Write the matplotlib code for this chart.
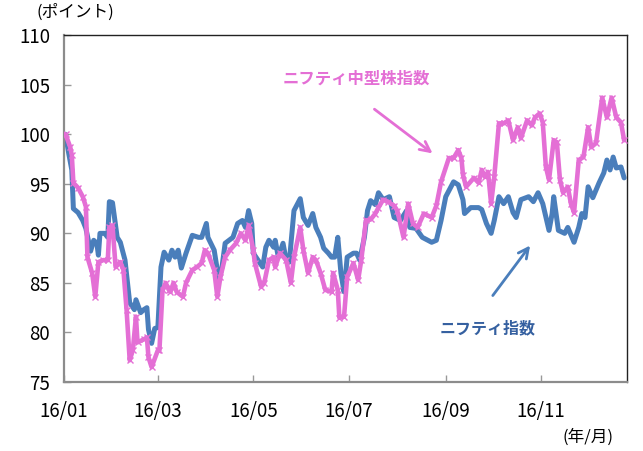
import pandas as pd
import matplotlib
matplotlib.use("Agg")
import matplotlib.pyplot as plt

plt.rcParams['font.family'] = ['Noto Sans CJK JP', 'DejaVu Sans']

# days counted from 2016-01-01, values in points (start = 100)
nifty_days = [1, 3, 5, 6, 9, 12, 14, 17, 19, 21, 22, 23, 26, 28, 29, 31, 34, 36, 39, 42,
              45, 46, 49, 51, 53, 54, 56, 58, 60, 62, 64, 67, 69, 71, 73, 75, 78, 82, 86, 88,
              91, 92, 96, 99, 101, 103, 108, 111, 114, 116, 118, 120, 121, 124, 127, 129, 131, 134, 135, 137,
              140, 142, 144, 147, 151, 153, 156, 159, 161, 164, 166, 169, 171, 173, 175, 177, 179, 181, 185, 187,
              189, 192, 194, 196, 199, 201, 204, 208, 211, 215, 219, 221, 225, 229, 235, 238, 241, 244, 249, 252,
              255, 256, 260, 265, 267, 270, 273, 275, 278, 281, 284, 287, 289, 292, 297, 300, 303, 306, 310, 312,
              313, 316, 320, 322, 326, 329, 331, 333, 335, 338, 342, 345, 347, 349, 351, 353, 356, 358]
nifty_vals = [100.0, 98.1, 96.4, 92.5, 92.1, 91.3, 90.5, 88.2, 89.3, 89.0, 87.8, 90.0, 90.0, 89.6, 93.2, 93.1, 89.6, 89.1, 87.3, 83.0,
              82.3, 83.3, 82.0, 82.3, 82.5, 80.3, 78.9, 80.4, 80.5, 86.6, 88.1, 87.3, 88.3, 87.6, 88.3, 86.5, 88.0, 89.8, 89.6, 89.6,
              91.0, 89.6, 88.3, 85.3, 86.6, 89.0, 89.6, 91.0, 91.3, 90.6, 92.3, 91.0, 88.0, 87.3, 86.6, 88.6, 89.3, 88.6, 89.3, 87.6,
              89.0, 87.3, 87.1, 92.3, 93.5, 91.6, 90.8, 92.0, 90.6, 89.6, 88.5, 88.0, 87.6, 87.6, 89.6, 86.0, 84.1, 87.6, 88.0, 88.0,
              87.3, 89.6, 92.3, 93.3, 92.9, 94.1, 93.4, 93.7, 91.6, 91.3, 92.3, 90.6, 90.5, 89.6, 89.1, 89.3, 91.3, 93.7, 95.2, 94.9,
              93.4, 92.0, 92.6, 92.6, 92.4, 91.0, 90.0, 91.3, 93.7, 93.0, 93.7, 92.1, 91.6, 93.4, 93.7, 93.2, 94.1, 93.0, 90.3, 92.0,
              93.7, 90.3, 90.0, 90.6, 89.1, 90.6, 92.0, 91.6, 94.7, 93.6, 95.1, 96.1, 97.4, 96.4, 97.7, 96.6, 96.7, 95.6]

midcap_days = [1, 4, 5, 6, 9, 12, 14, 15, 18, 20, 22, 25, 28, 29, 31, 33, 36, 38, 40, 42,
               44, 46, 47, 51, 53, 54, 56, 60, 61, 63, 65, 67, 68, 70, 72, 76, 78, 82, 85, 88,
               90, 92, 96, 98, 100, 103, 106, 110, 113, 116, 118, 121, 122, 126, 128, 131, 134, 135, 138, 142,
               145, 147, 151, 153, 156, 159, 161, 164, 167, 171, 172, 175, 176, 179, 181, 185, 188, 190, 193, 196,
               199, 201, 204, 207, 211, 213, 217, 220, 223, 226, 230, 235, 238, 241, 246, 249, 252, 254, 255, 257,
               262, 265, 267, 269, 271, 273, 275, 278, 281, 284, 287, 290, 292, 296, 299, 301, 304, 306, 308, 310,
               313, 315, 317, 319, 322, 324, 326, 329, 332, 335, 337, 340, 344, 347, 350, 353, 356, 358]
midcap_vals = [100.0, 98.7, 97.9, 95.1, 94.6, 93.7, 92.7, 87.6, 86.0, 83.6, 87.1, 87.3, 87.3, 90.6, 90.8, 86.6, 87.1, 86.3, 82.3, 77.2,
               78.2, 81.6, 79.0, 79.3, 79.5, 77.5, 76.5, 78.2, 78.2, 84.3, 85.0, 84.3, 84.1, 85.0, 84.1, 83.6, 85.0, 86.3, 86.6, 87.0,
               88.3, 88.0, 86.3, 83.6, 85.6, 87.6, 88.3, 89.0, 90.0, 89.3, 90.8, 88.3, 87.0, 84.6, 85.0, 87.3, 87.6, 86.6, 88.0, 87.3,
               85.0, 87.6, 90.6, 88.3, 86.0, 87.6, 87.3, 86.0, 84.3, 84.1, 86.0, 84.3, 81.5, 81.6, 85.6, 87.0, 85.3, 87.3, 91.3, 91.4,
               92.0, 92.6, 93.4, 93.2, 92.8, 92.3, 89.6, 93.0, 91.0, 90.6, 92.0, 91.6, 92.8, 95.2, 97.6, 97.6, 98.4, 97.6, 95.9, 94.7,
               95.6, 95.1, 96.4, 95.7, 96.2, 93.0, 95.7, 101.1, 101.1, 101.4, 99.4, 100.7, 99.6, 101.4, 100.9, 101.7, 102.1, 101.2, 96.7, 95.4,
               99.4, 99.2, 95.4, 94.1, 94.7, 93.0, 92.1, 97.4, 97.7, 100.7, 98.7, 99.1, 103.7, 101.7, 103.7, 101.7, 101.2, 99.4]

tick_labels = ['16/01', '16/03', '16/05', '16/07', '16/09', '16/11']
tick_dates = ['2016-01-01', '2016-03-01', '2016-05-01', '2016-07-01', '2016-09-01', '2016-11-01']

start = pd.Timestamp('2016-01-01')
nifty_x = start + pd.to_timedelta(nifty_days, unit='D')
midcap_x = start + pd.to_timedelta(midcap_days, unit='D')

blue = '#4A7EBB'
pink = '#E46FD5'

fig = plt.figure(figsize=(6.43, 4.51), dpi=100)
ax = fig.add_axes([0.0995, 0.153, 0.876, 0.769])

ax.plot(nifty_x, nifty_vals, color=blue, lw=3.6, solid_joinstyle='round',
        solid_capstyle='round', zorder=2)
ax.plot(midcap_x, midcap_vals, color=pink, lw=3.3, marker='x', ms=4.5, mew=1.0,
        solid_joinstyle='round', solid_capstyle='round', zorder=3)

ax.set_ylim(75, 110)
ax.set_yticks(range(75, 111, 5))
ax.set_xlim(start, start + pd.Timedelta(days=360))
ax.set_xticks(pd.to_datetime(tick_dates))
ax.set_xticklabels(tick_labels)

ax.tick_params(axis='both', direction='in', color='#999999', length=5, width=1,
               labelsize=13.5)
ax.tick_params(axis='x', pad=14)
ax.tick_params(axis='y', pad=10)
for side in ['left', 'bottom']:
    ax.spines[side].set_color('#8c8c8c')
    ax.spines[side].set_linewidth(1.6)
for side in ['top', 'right']:
    ax.spines[side].set_color('#222222')
    ax.spines[side].set_linewidth(1.0)

fig.text(0.118, 0.972, '(ポイント)', fontsize=12, ha='center', va='center')
fig.text(0.915, 0.03, '(年/月)', fontsize=12, ha='center', va='center')

# labels with arrows
ax.annotate('', xy=(pd.Timestamp('2016-08-25'), 97.9), xytext=(pd.Timestamp('2016-07-16'), 102.7),
            arrowprops=dict(arrowstyle='->', color=pink, lw=2, mutation_scale=18))
ax.text(pd.Timestamp('2016-07-06'), 105.6, 'ニフティ中型株指数', color=pink, fontsize=11.8,
        fontweight='bold', ha='center', va='center')
ax.annotate('', xy=(pd.Timestamp('2016-10-26'), 89.0), xytext=(pd.Timestamp('2016-09-30'), 83.5),
            arrowprops=dict(arrowstyle='->', color=blue, lw=2, mutation_scale=18))
ax.text(pd.Timestamp('2016-09-28'), 80.4, 'ニフティ指数', color='#3560A0', fontsize=11.5,
        fontweight='bold', ha='center', va='center')

fig.savefig('out.png', dpi=100)
